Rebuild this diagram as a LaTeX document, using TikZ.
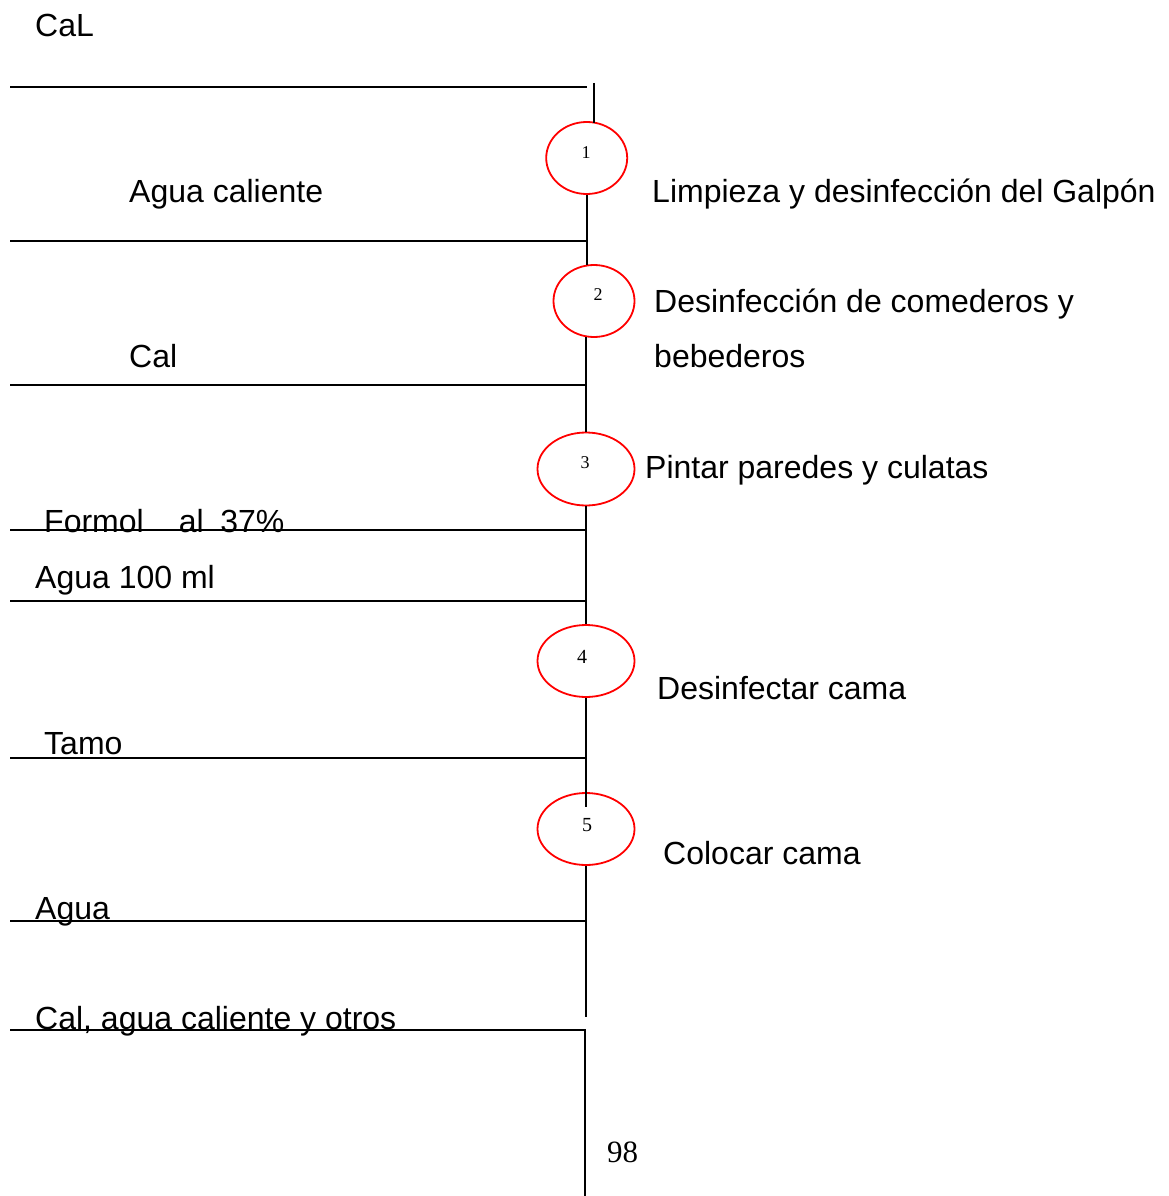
\documentclass[tikz,border=0pt]{standalone}
\usepackage{fontspec}
\setmainfont{Liberation Sans}
\newfontfamily\serifnum{Liberation Serif}
\usetikzlibrary{shapes.geometric}
\begin{document}
\begin{tikzpicture}[x=1pt,y=-1pt,
  stepcirc/.style={draw=red,line width=1.8pt,ellipse,inner sep=0pt,minimum width=#1,minimum height=72pt},
  lbl/.style={anchor=base west,inner sep=0pt,font=\fontsize{32}{38}\selectfont},
  num/.style={inner sep=0pt,font=\serifnum\fontsize{18}{20}\selectfont},
  ln/.style={line width=1.6pt}]
\useasboundingbox[fill=white] (0,0) rectangle (1169,1196);
% step ellipses
\node[stepcirc=81pt] (c1) at (586.7,158) {};
\node[stepcirc=81pt] (c2) at (594,301) {};
\node[stepcirc=97pt,minimum height=73pt] (c3) at (586,469) {};
\node[stepcirc=97pt] (c4) at (586,661) {};
\node[stepcirc=97pt] (c5) at (586,829) {};
\node[num] (n1) at (586,153) {1};
\node[num] (n2) at (598,295) {2};
\node[num] (n3) at (585,463) {3};
\node[num,font=\serifnum\fontsize{20}{22}\selectfont] (n4) at (582,657) {4};
\node[num,font=\serifnum\fontsize{20}{22}\selectfont] (n5) at (587,825) {5};
% coordinates
\coordinate (t0) at (594,83);
\coordinate (t1) at (594,123);
\coordinate (v1e) at (586.7,265);
\coordinate (v2b) at (586,337);
\coordinate (v5e) at (586,807);
\coordinate (v6e) at (586,1017);
\coordinate (b0) at (585,1030);
\coordinate (b1) at (585,1196);
\coordinate (h1a) at (10,87);   \coordinate (h1b) at (587,87);
\coordinate (h2a) at (10,241);  \coordinate (h2b) at (586,241);
\coordinate (h3a) at (10,385);  \coordinate (h3b) at (586,385);
\coordinate (h4a) at (10,530);  \coordinate (h4b) at (586,530);
\coordinate (h5a) at (10,601);  \coordinate (h5b) at (586,601);
\coordinate (h6a) at (10,758);  \coordinate (h6b) at (586,758);
\coordinate (h7a) at (10,921);  \coordinate (h7b) at (586,921);
\coordinate (h8a) at (10,1030); \coordinate (h8b) at (586,1030);
% vertical spine
\draw[ln] (t0) -- (t1);
\draw[ln] (c1.south) -- (v1e);
\draw[ln] (v2b) -- (c3.north);
\draw[ln] (c3.south) -- (c4.north);
\draw[ln] (c4.south) -- (v5e);
\draw[ln] (c5.south) -- (v6e);
\draw[ln] (b0) -- (b1);
% horizontal lines
\foreach \i in {1,...,8} {\draw[ln] (h\i a) -- (h\i b);}
% texts
\node[lbl] (tCaL) at (35,37) {CaL};
\node[lbl] (tAc) at (129,202) {Agua caliente};
\node[lbl] (tLim) at (652,202) {Limpieza y desinfección del Galpón};
\node[lbl] (tDes1) at (654,312) {Desinfección de comederos y};
\node[lbl] (tDes2) at (654,367) {bebederos};
\node[lbl] (tCal) at (129,367) {Cal};
\node[lbl] (tPin) at (645,478) {Pintar paredes y culatas};
\node[lbl] (tFor) at (44,532) {Formol\hspace{0.82em} al\hspace{0.24em} 37\%};
\node[lbl] (tAg1) at (35,588) {Agua 100 ml};
\node[lbl] (tDc) at (657,699) {Desinfectar cama};
\node[lbl] (tTam) at (44,754) {Tamo};
\node[lbl] (tCc) at (663,864) {Colocar cama};
\node[lbl] (tAg2) at (35,919) {Agua};
\node[lbl] (tCo) at (35,1029) {Cal, agua caliente y otros};
\node[num,font=\serifnum\fontsize{31}{34}\selectfont,anchor=base west] (p98) at (607,1162) {98};
\end{tikzpicture}
\end{document}
